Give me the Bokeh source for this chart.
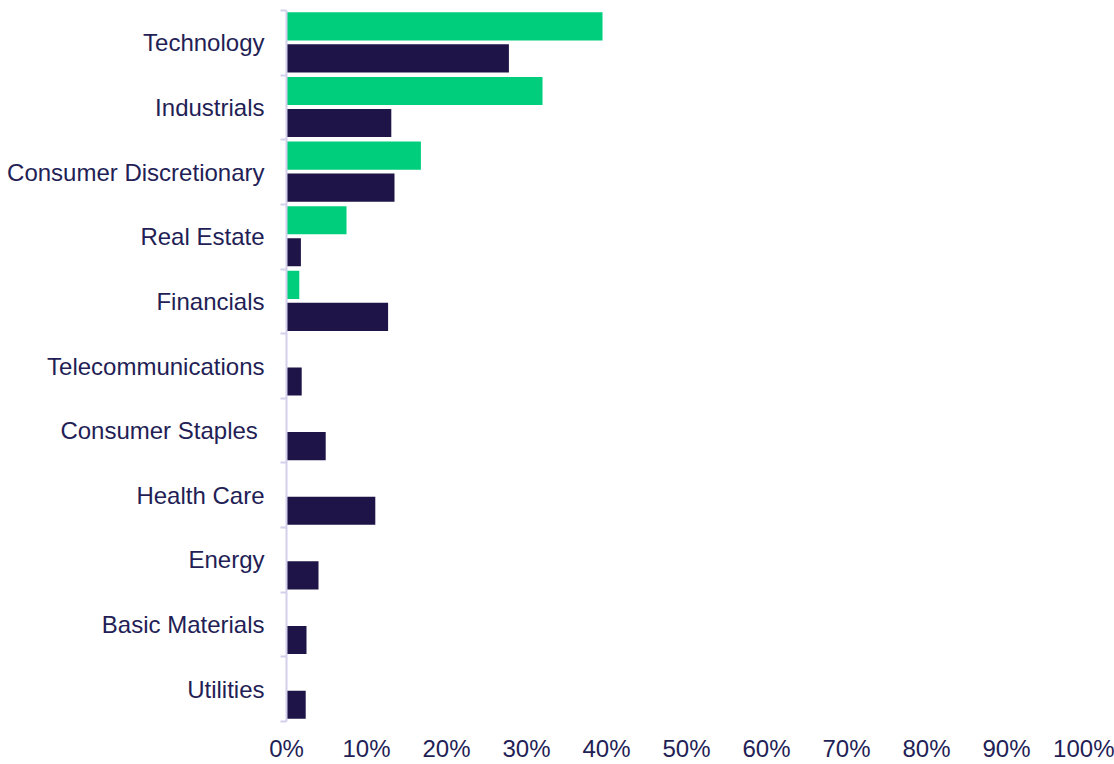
from bokeh.plotting import figure
from bokeh.models import Range1d, FixedTicker, PrintfTickFormatter
from bokeh.embed import file_html
from bokeh.resources import INLINE

categories = ["Technology", "Industrials", "Consumer Discretionary", "Real Estate",
              "Financials", "Telecommunications", "Consumer Staples ", "Health Care",
              "Energy", "Basic Materials", "Utilities"]
series_green = [39.5, 32.0, 16.8, 7.5, 1.6, 0, 0, 0, 0, 0, 0]
series_navy = [27.8, 13.1, 13.5, 1.8, 12.7, 1.9, 4.9, 11.1, 4.0, 2.5, 2.4]
x_ticks = [0, 10, 20, 30, 40, 50, 60, 70, 80, 90, 100]

GREEN = "#00CE7C"
NAVY = "#1E1447"
TEXT = "#231E55"
AXIS = "#D4D0EC"
FONT = "Liberation Sans"

n = len(categories)
centers = [i + 0.5 for i in range(n)]
boundaries = list(range(n + 1))

p = figure(width=1114, height=764, output_backend="svg", toolbar_location=None,
           x_range=Range1d(0, 100), y_range=Range1d(n, 0),
           min_border_left=286, min_border_right=28, min_border_top=10, min_border_bottom=43)

p.hbar(y=[i + 0.245 for i in range(n)], right=series_green, left=0, height=0.435,
       color=GREEN, line_color=None)
p.hbar(y=[i + 0.74 for i in range(n)], right=series_navy, left=0, height=0.435,
       color=NAVY, line_color=None)

p.outline_line_color = None
p.xgrid.grid_line_color = None
p.ygrid.grid_line_color = None

xa = p.xaxis[0]
xa.ticker = FixedTicker(ticks=x_ticks)
xa.formatter = PrintfTickFormatter(format="%d%%")
xa.axis_line_color = None
xa.major_tick_line_color = None
xa.minor_tick_line_color = None
xa.major_tick_out = 0
xa.major_tick_in = 0
xa.minor_tick_out = 0
xa.minor_tick_in = 0
xa.major_label_text_font = FONT
xa.major_label_text_font_size = "24px"
xa.major_label_text_color = TEXT
xa.major_label_text_line_height = 0.9
xa.major_label_standoff = 13

ya = p.yaxis[0]
ya.ticker = FixedTicker(ticks=centers, minor_ticks=boundaries)
ya.major_label_overrides = {c: lab for c, lab in zip(centers, categories)}
ya.axis_line_color = AXIS
ya.axis_line_width = 2
ya.major_tick_line_color = None
ya.minor_tick_line_color = AXIS
ya.minor_tick_line_width = 2
ya.minor_tick_out = 6
ya.minor_tick_in = 0
ya.major_tick_out = 0
ya.major_tick_in = 0
ya.major_label_text_font = FONT
ya.major_label_text_font_size = "24px"
ya.major_label_text_color = TEXT
ya.major_label_standoff = 16

open("out.html", "w").write(file_html(p, INLINE))
